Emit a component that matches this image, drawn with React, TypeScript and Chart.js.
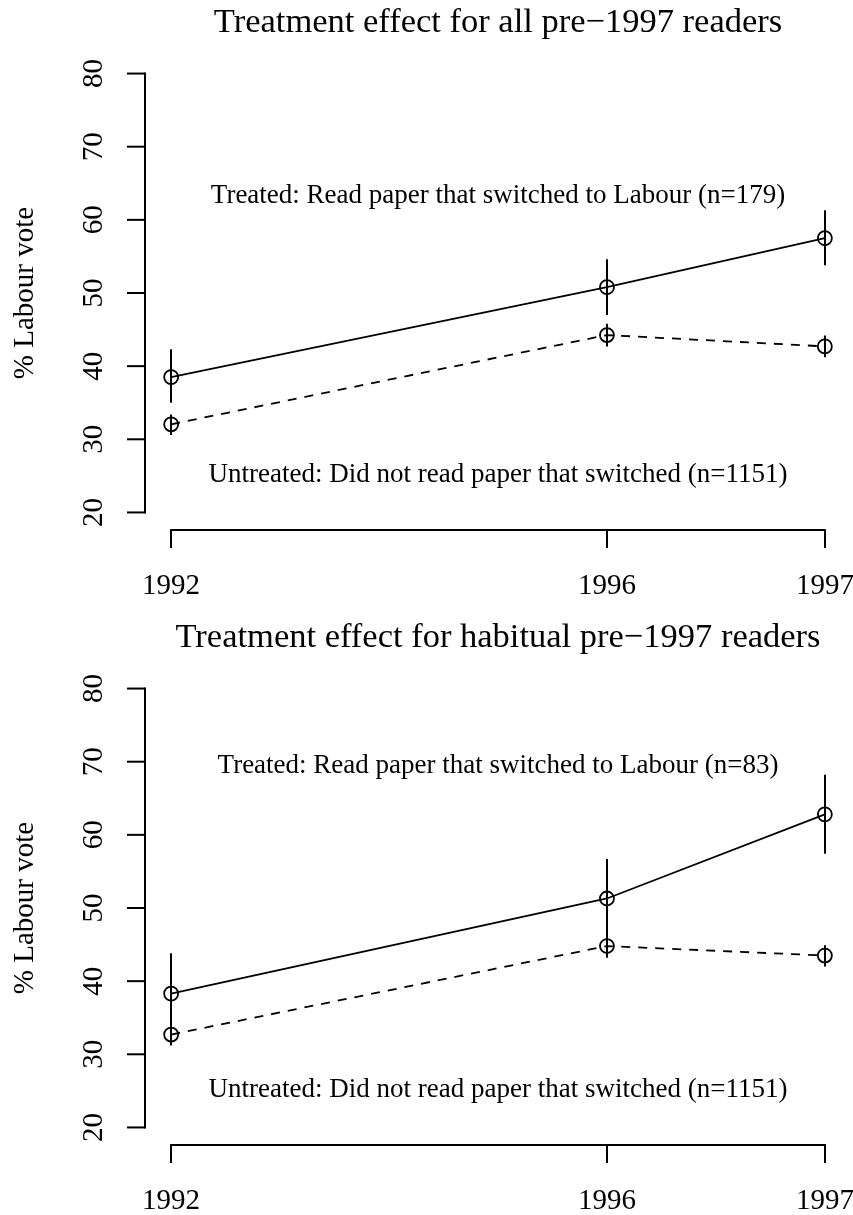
import React, { useEffect, useRef } from 'react';
import { Chart, registerables } from 'chart.js';

Chart.register(...registerables);

const FONT = '"Liberation Serif", "Times New Roman", "DejaVu Serif", serif';

// ---- data ----
const years = ['1992', '1996', '1997'];
const yearPositions = [0, 2, 3];
const yTicks = [20, 30, 40, 50, 60, 70, 80];

const allTreated = [38.5, 50.8, 57.5];
const allTreatedLo = [35.0, 47.0, 53.8];
const allTreatedHi = [42.3, 54.6, 61.3];
const allUntreated = [32.05, 44.25, 42.7];
const allUntreatedLo = [30.6, 42.7, 41.2];
const allUntreatedHi = [33.4, 45.8, 44.2];

const habTreated = [38.3, 51.3, 62.8];
const habTreatedLo = [32.9, 45.9, 57.4];
const habTreatedHi = [43.8, 56.7, 68.2];
const habUntreated = [32.7, 44.8, 43.5];
const habUntreatedLo = [31.2, 43.2, 42.0];
const habUntreatedHi = [34.2, 46.4, 44.9];

const titles = [
  'Treatment effect for all pre\u22121997 readers',
  'Treatment effect for habitual pre\u22121997 readers',
];
const treatedLabels = [
  'Treated: Read paper that switched to Labour (n=179)',
  'Treated: Read paper that switched to Labour (n=83)',
];
const untreatedLabel = 'Untreated: Did not read paper that switched (n=1151)';
const treatedLabelY = [63.3, 69.4];
const untreatedLabelY = [25.1, 25.1];
const yAxisTitle = '% Labour vote';

type Spec = {
  title: string;
  treated: number[];
  treatedLo: number[];
  treatedHi: number[];
  untreated: number[];
  untreatedLo: number[];
  untreatedHi: number[];
  treatedText: string;
  treatedTextY: number;
  untreatedText: string;
  untreatedTextY: number;
};

const specs: Spec[] = [
  {
    title: titles[0],
    treated: allTreated,
    treatedLo: allTreatedLo,
    treatedHi: allTreatedHi,
    untreated: allUntreated,
    untreatedLo: allUntreatedLo,
    untreatedHi: allUntreatedHi,
    treatedText: treatedLabels[0],
    treatedTextY: treatedLabelY[0],
    untreatedText: untreatedLabel,
    untreatedTextY: untreatedLabelY[0],
  },
  {
    title: titles[1],
    treated: habTreated,
    treatedLo: habTreatedLo,
    treatedHi: habTreatedHi,
    untreated: habUntreated,
    untreatedLo: habUntreatedLo,
    untreatedHi: habUntreatedHi,
    treatedText: treatedLabels[1],
    treatedTextY: treatedLabelY[1],
    untreatedText: untreatedLabel,
    untreatedTextY: untreatedLabelY[1],
  },
];

const W = 853;
const H = 600;

function Panel({ spec, top }: { spec: Spec; top: number }) {
  const ref = useRef<HTMLCanvasElement | null>(null);

  useEffect(() => {
    if (!ref.current) return;
    const pts = (vals: number[]) => vals.map((v, i) => ({ x: yearPositions[i], y: v }));

    const decor = {
      id: 'rdecor',
      afterDatasetsDraw(chart: any) {
        const { ctx, chartArea } = chart;
        const x = chart.scales.x;
        const y = chart.scales.y;
        ctx.save();
        ctx.strokeStyle = '#000';
        ctx.fillStyle = '#000';
        ctx.lineCap = 'butt';

        // error bars
        ctx.lineWidth = 2;
        const bars: [number[], number[]][] = [
          [spec.treatedLo, spec.treatedHi],
          [spec.untreatedLo, spec.untreatedHi],
        ];
        bars.forEach(([lo, hi]) => {
          lo.forEach((l, i) => {
            const px = Math.round(x.getPixelForValue(yearPositions[i]));
            ctx.beginPath();
            ctx.moveTo(px, y.getPixelForValue(l));
            ctx.lineTo(px, y.getPixelForValue(hi[i]));
            ctx.stroke();
          });
        });

        // y axis
        const ax = chartArea.left;
        ctx.lineWidth = 2;
        ctx.beginPath();
        ctx.moveTo(ax, y.getPixelForValue(yTicks[0]) + 1);
        ctx.lineTo(ax, y.getPixelForValue(yTicks[yTicks.length - 1]) - 1);
        ctx.stroke();
        ctx.font = `29px ${FONT}`;
        yTicks.forEach((t) => {
          const py = y.getPixelForValue(t);
          ctx.beginPath();
          ctx.moveTo(ax, py);
          ctx.lineTo(ax - 18, py);
          ctx.stroke();
          ctx.save();
          ctx.translate(ax - 43, py);
          ctx.rotate(-Math.PI / 2);
          ctx.textAlign = 'center';
          ctx.textBaseline = 'alphabetic';
          ctx.fillText(String(t), 0, 0);
          ctx.restore();
        });

        // y axis title
        ctx.save();
        ctx.translate(33, y.getPixelForValue((yTicks[0] + yTicks[yTicks.length - 1]) / 2));
        ctx.rotate(-Math.PI / 2);
        ctx.textAlign = 'center';
        ctx.textBaseline = 'alphabetic';
        ctx.font = `29px ${FONT}`;
        ctx.fillText(yAxisTitle, 0, 0);
        ctx.restore();

        // x axis
        const ay = chartArea.bottom;
        const x0 = x.getPixelForValue(yearPositions[0]);
        const x1 = x.getPixelForValue(yearPositions[yearPositions.length - 1]);
        ctx.beginPath();
        ctx.moveTo(x0 - 1, ay);
        ctx.lineTo(x1 + 1, ay);
        ctx.stroke();
        ctx.font = `29px ${FONT}`;
        ctx.textAlign = 'center';
        ctx.textBaseline = 'alphabetic';
        yearPositions.forEach((p, i) => {
          const px = Math.round(x.getPixelForValue(p));
          ctx.beginPath();
          ctx.moveTo(px, ay);
          ctx.lineTo(px, ay + 18);
          ctx.stroke();
          ctx.fillText(years[i], px, ay + 64);
        });

        // annotations
        const midX = x.getPixelForValue((yearPositions[0] + yearPositions[yearPositions.length - 1]) / 2);
        ctx.font = `27px ${FONT}`;
        ctx.textAlign = 'center';
        ctx.textBaseline = 'middle';
        ctx.fillText(spec.treatedText, midX, y.getPixelForValue(spec.treatedTextY));
        ctx.fillText(spec.untreatedText, midX, y.getPixelForValue(spec.untreatedTextY));

        // title
        ctx.font = `34.5px ${FONT}`;
        ctx.textAlign = 'center';
        ctx.textBaseline = 'alphabetic';
        ctx.fillText(spec.title, (chartArea.left + chartArea.right) / 2, 32);

        ctx.restore();
      },
    };

    const chart = new Chart(ref.current, {
      type: 'line',
      data: {
        datasets: [
          {
            label: 'Treated',
            data: pts(spec.treated),
            borderColor: '#000',
            borderWidth: 1.8,
            backgroundColor: 'rgba(0,0,0,0)',
            pointRadius: 7,
            pointBorderWidth: 1.8,
            pointBorderColor: '#000',
            pointBackgroundColor: 'rgba(0,0,0,0)',
            pointStyle: 'circle',
            tension: 0,
            clip: false,
          },
          {
            label: 'Untreated',
            data: pts(spec.untreated),
            borderColor: '#000',
            borderWidth: 1.8,
            borderDash: [9, 8],
            backgroundColor: 'rgba(0,0,0,0)',
            pointRadius: 7,
            pointBorderWidth: 1.8,
            pointBorderColor: '#000',
            pointBackgroundColor: 'rgba(0,0,0,0)',
            pointStyle: 'circle',
            tension: 0,
            clip: false,
          },
        ],
      },
      options: {
        animation: false,
        responsive: false,
        devicePixelRatio: 1,
        layout: { autoPadding: false, padding: { left: 145, right: 2, top: 56, bottom: 70 } },
        plugins: {
          legend: { display: false },
          title: { display: false },
          tooltip: { enabled: false },
        },
        scales: {
          x: { type: 'linear', min: -0.12, max: 3.12, display: false },
          y: { type: 'linear', min: 17.6, max: 82.4, display: false },
        },
      },
      plugins: [decor],
    } as any);

    return () => chart.destroy();
  }, [spec]);

  return (
    <canvas
      ref={ref}
      width={W}
      height={H}
      style={{ position: 'absolute', left: 0, top, width: W, height: H, display: 'block' }}
    />
  );
}

export default function App() {
  return (
    <div
      style={{
        position: 'absolute',
        left: 0,
        top: 0,
        width: W,
        height: 1215,
        background: '#fff',
        overflow: 'hidden',
      }}
    >
      <Panel spec={specs[0]} top={0} />
      <Panel spec={specs[1]} top={615} />
    </div>
  );
}
